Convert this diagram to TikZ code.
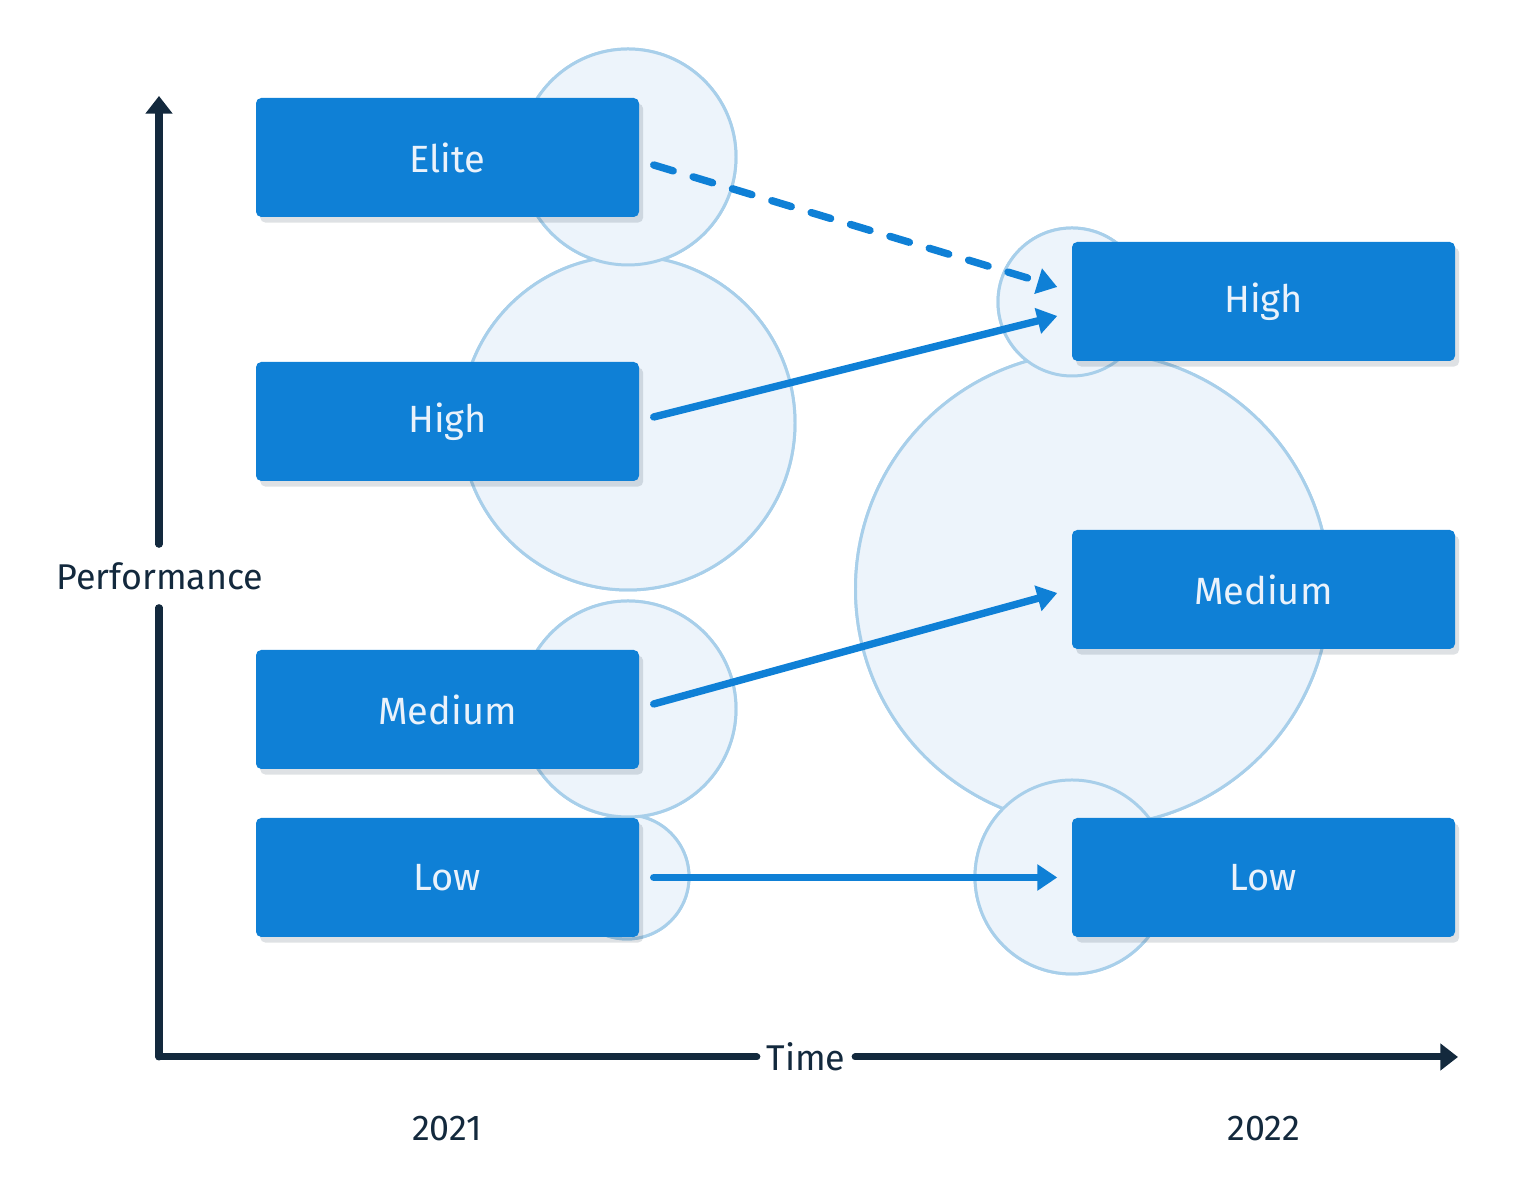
\documentclass[tikz,border=0pt]{standalone}
\usepackage{fontspec}
\setmainfont{Fira Sans}
\usepackage{xcolor}
\usepackage{tikz}
\usetikzlibrary{positioning,arrows.meta,calc,shadows}

\definecolor{boxblue}{HTML}{0F80D6}
\definecolor{boxtext}{HTML}{EAF2FB}
\definecolor{ringfill}{HTML}{EDF4FB}
\definecolor{ringline}{HTML}{A8CFEA}
\definecolor{axisnavy}{HTML}{13293D}

\begin{document}
\begin{tikzpicture}[font=\fontsize{10.2}{12}\selectfont,
  box/.style={fill=boxblue,rounded corners=1.5pt,minimum width=3.83cm,minimum height=1.19cm,
    text=boxtext,font=\fontsize{10.8}{13}\selectfont,
    drop shadow={shadow xshift=1.2pt,shadow yshift=-1.6pt,opacity=0.14,fill=axisnavy}},
  ring/.style={fill=ringfill,draw=ringline,line width=0.85pt},
  flow/.style={draw=boxblue,line width=2.1pt,line cap=round,-{Triangle[length=5.7pt,width=7.2pt]}},
  axis/.style={draw=axisnavy,line width=2pt,line cap=round},
  lbl/.style={text=axisnavy,inner sep=0pt}]
\useasboundingbox (0,0) rectangle (15.14,12.04);

% circles behind the boxes
\fill[ring] (6.28,7.81) circle (1.67);
\fill[ring] (6.28,10.47) circle (1.08);
\fill[ring] (6.27,3.27) circle (0.62);
\fill[ring] (6.28,4.95) circle (1.08);
\fill[ring] (10.925,6.15) circle (2.37);
\fill[ring] (10.72,9.02) circle (0.74);
\fill[ring] (10.72,3.27) circle (0.97);
\draw[ring] (6.28,7.81) circle (1.67);
\draw[ring] (6.28,10.47) circle (1.08);
\draw[ring] (6.27,3.27) circle (0.62);
\draw[ring] (6.28,4.95) circle (1.08);
\draw[ring] (10.925,6.15) circle (2.37);
\draw[ring] (10.72,9.02) circle (0.74);
\draw[ring] (10.72,3.27) circle (0.97);

% 2021
\node[box] (eliteL) at (4.475,10.465) {Elite};
\node[box] (highL) at (4.475,7.825) {High};
\node[box] (mediumL) at (4.475,4.945) {Medium};
\node[box] (lowL) at (4.475,3.265) {Low};
% 2022
\node[box] (highR) at (12.635,9.025) {High};
\node[box] (mediumR) at (12.635,6.145) {Medium};
\node[box] (lowR) at (12.635,3.265) {Low};

\draw[flow,dash pattern=on 5.8pt off 5.9pt]
  ($(eliteL.east)+(0.14,-0.075)$) -- ($(highR.west)+(-0.14,0.145)$);
\draw[flow] ($(highL.east)+(0.14,0.045)$) -- ($(highR.west)+(-0.14,-0.145)$);
\draw[flow] ($(mediumL.east)+(0.14,0.055)$) -- ($(mediumR.west)+(-0.14,-0.035)$);
\draw[flow] ($(lowL.east)+(0.14,0)$) -- ($(lowR.west)+(-0.14,0)$);

% axes
\coordinate (origin) at (1.59,1.47);
\coordinate (ytop) at (1.59,11.08);
\coordinate (xend) at (14.58,1.47);
\node[lbl,minimum height=0.62cm] (perf) at (1.60,6.28) {Performance};
\node[lbl,inner xsep=0.09cm] (time) at (8.06,1.47) {Time};
\draw[axis] (origin) -- (perf.south -| origin);
\draw[axis,-{Triangle[length=5pt,width=7.4pt]}] (perf.north -| origin) -- (ytop);
\draw[axis] (origin) -- (time.west);
\draw[axis,-{Triangle[length=5pt,width=7.4pt]}] (time.east) -- (xend);

\node[lbl] (y2021) at (4.47,0.75) {2021};
\node[lbl] (y2022) at (12.64,0.75) {2022};
\end{tikzpicture}
\end{document}
